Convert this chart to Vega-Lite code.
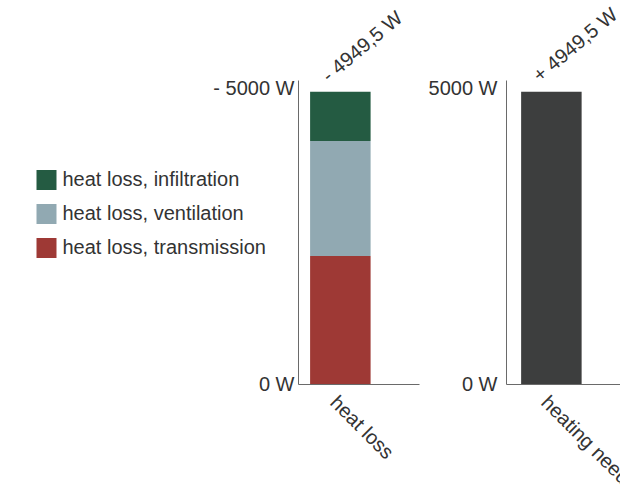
{
  "$schema": "https://vega.github.io/schema/vega-lite/v6.json",
  "padding": {"left": 36, "top": 4, "right": 0, "bottom": 0},
  "spacing": 9,
  "background": "white",
  "config": {
    "view": {"stroke": null},
    "font": "Liberation Sans",
    "axis": {
      "grid": false,
      "ticks": false,
      "domainColor": "#6a6a6a",
      "labelColor": "#333333",
      "labelFont": "Liberation Sans",
      "labelFontSize": 20,
      "title": null
    },
    "legend": {
      "labelFont": "Liberation Sans",
      "labelFontSize": 20,
      "labelColor": "#333333",
      "labelLimit": 0
    }
  },
  "datasets": {
    "loss": [
      {"panel": "heat loss", "component": "heat loss, transmission", "value": 2167.5},
      {"panel": "heat loss", "component": "heat loss, ventilation", "value": 1948},
      {"panel": "heat loss", "component": "heat loss, infiltration", "value": 834}
    ],
    "losstotal": [
      {"panel": "heat loss", "total": 4949.5, "label": "- 4949,5 W"}
    ],
    "need": [
      {"panel": "heating need", "total": 4949.5, "label": "+ 4949,5 W"}
    ]
  },
  "hconcat": [
    {
      "width": 121,
      "height": 304,
      "layer": [
        {
          "data": {"name": "loss"},
          "mark": {"type": "bar"},
          "encoding": {
            "x": {
              "field": "panel",
              "type": "nominal",
              "scale": {"paddingInner": 0, "paddingOuter": 0.5, "align": 0.2},
              "axis": {"labelAngle": 45, "labelPadding": 8, "labelAlign": "left", "labelBaseline": "top"}
            },
            "y": {
              "field": "value",
              "type": "quantitative",
              "stack": "zero",
              "scale": {"domain": [0, 5150], "nice": false},
              "axis": {
                "values": [0, 5000],
                "labelPadding": 4,
                "labelExpr": "datum.value == 0 ? '0 W' : '- ' + datum.value + ' W'"
              }
            },
            "color": {
              "field": "component",
              "type": "nominal",
              "sort": ["heat loss, infiltration", "heat loss, ventilation", "heat loss, transmission"],
              "scale": {
                "domain": ["heat loss, infiltration", "heat loss, ventilation", "heat loss, transmission"],
                "range": ["#245b42", "#91a9b2", "#9e3935"]
              },
              "legend": {
                "title": null,
                "orient": "none",
                "legendX": -261.5,
                "legendY": 90,
                "padding": 0,
                "symbolType": "square",
                "symbolSize": 400,
                "symbolStrokeWidth": 0,
                "symbolOpacity": 1,
                "rowPadding": 14,
                "labelOffset": 6
              }
            },
            "order": {"field": "value", "sort": "descending"}
          }
        },
        {
          "data": {"name": "losstotal"},
          "mark": {"type": "text", "angle": 320, "align": "left", "baseline": "middle", "dx": -3, "dy": -20, "fontSize": 20, "color": "#333333"},
          "encoding": {
            "x": {"field": "panel", "type": "nominal"},
            "y": {"field": "total", "type": "quantitative"},
            "text": {"field": "label"}
          }
        }
      ]
    },
    {
      "width": 121,
      "height": 304,
      "layer": [
        {
          "data": {"name": "need"},
          "mark": {"type": "bar", "color": "#3d3e3e"},
          "encoding": {
            "x": {
              "field": "panel",
              "type": "nominal",
              "scale": {"paddingInner": 0, "paddingOuter": 0.5, "align": 0.25},
              "axis": {"labelAngle": 45, "labelPadding": 8, "labelAlign": "left", "labelBaseline": "top"}
            },
            "y": {
              "field": "total",
              "type": "quantitative",
              "scale": {"domain": [0, 5150], "nice": false},
              "axis": {
                "values": [0, 5000],
                "labelPadding": 9,
                "labelExpr": "datum.value + ' W'"
              }
            }
          }
        },
        {
          "data": {"name": "need"},
          "mark": {"type": "text", "angle": 320, "align": "left", "baseline": "middle", "dx": -3, "dy": -20, "fontSize": 20, "color": "#333333"},
          "encoding": {
            "x": {"field": "panel", "type": "nominal"},
            "y": {"field": "total", "type": "quantitative"},
            "text": {"field": "label"}
          }
        }
      ]
    }
  ]
}
